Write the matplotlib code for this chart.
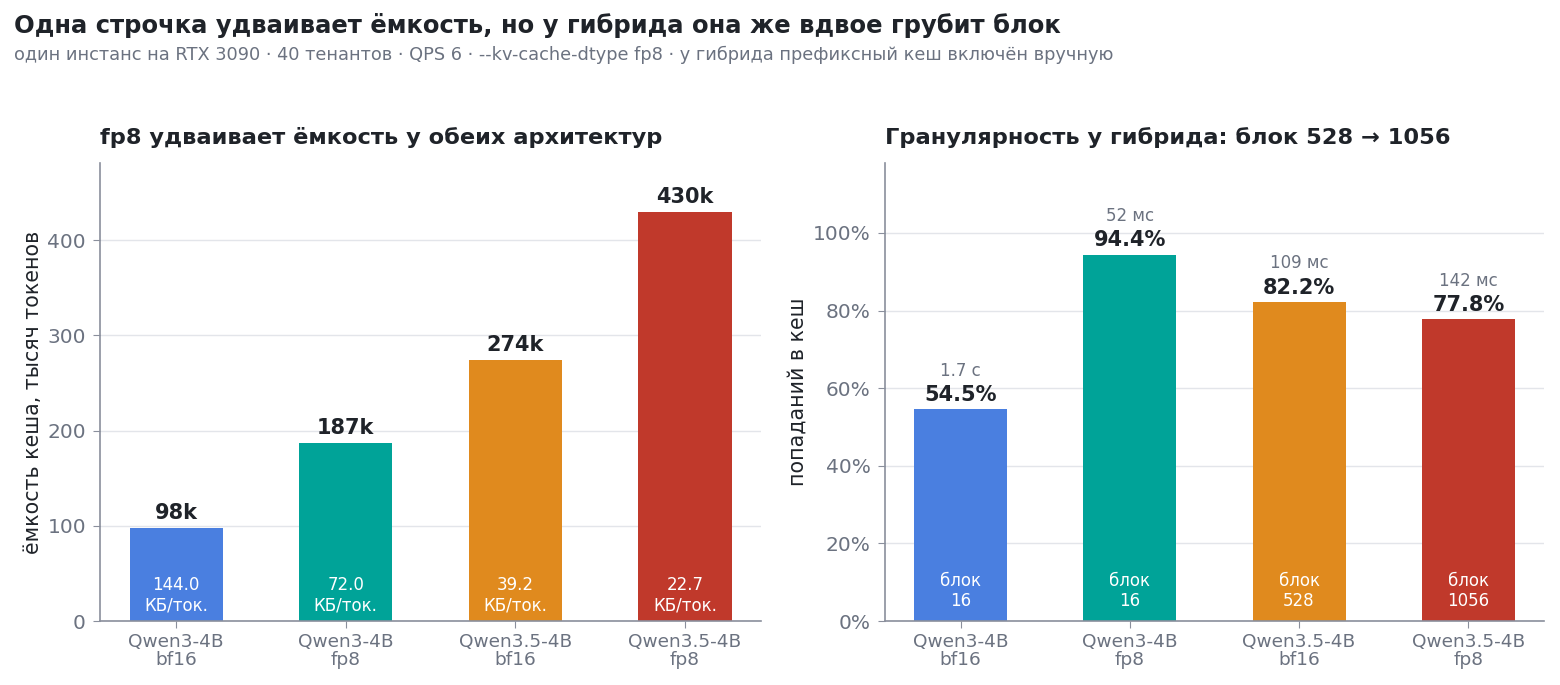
import numpy as np
import matplotlib
matplotlib.use('Agg')
import matplotlib.pyplot as plt

plt.rcParams['font.family'] = ['DejaVu Sans']

# данные
labels = ['Qwen3-4B\nbf16', 'Qwen3-4B\nfp8', 'Qwen3.5-4B\nbf16', 'Qwen3.5-4B\nfp8']
capacity_k = [98, 187, 274, 430]
kb_per_tok = [144.0, 72.0, 39.2, 22.7]
hit_rate = [54.5, 94.4, 82.2, 77.8]
latency = ['1.7 с', '52 мс', '109 мс', '142 мс']
block = [16, 16, 528, 1056]
colors = ['#4A7FE0', '#00A398', '#E08A1E', '#C0392B']

txt = '#1F2329'
grey = '#6B7280'
gridc = '#E3E5EA'

fig = plt.figure(figsize=(15.6, 6.85), dpi=100)
ax1 = fig.add_axes([0.064, 0.0934, 0.424, 0.6686])
ax2 = fig.add_axes([0.567, 0.0934, 0.423, 0.6686])

fig.text(0.009, 0.963, 'Одна строчка удваивает ёмкость, но у гибрида она же вдвое грубит блок',
         fontsize=17.5, fontweight='bold', color=txt, va='center', ha='left')
fig.text(0.009, 0.920, 'один инстанс на RTX 3090 · 40 тенантов · QPS 6 · --kv-cache-dtype fp8 · у гибрида префиксный кеш включён вручную',
         fontsize=12.8, color=grey, va='center', ha='left')

x = np.arange(len(labels))
w = 0.55


def style(ax):
    for s in ['top', 'right']:
        ax.spines[s].set_visible(False)
    for s in ['left', 'bottom']:
        ax.spines[s].set_color('#8A8F9C')
        ax.spines[s].set_linewidth(1.2)
    ax.grid(axis='y', color=gridc, linewidth=1)
    ax.set_axisbelow(True)
    ax.tick_params(axis='y', colors='#8A8F9C', labelcolor=grey, labelsize=14.5, length=5, pad=5)
    ax.tick_params(axis='x', colors='#8A8F9C', labelcolor=grey, labelsize=13.3, length=5)
    ax.set_xticks(x)
    ax.set_xticklabels(labels, linespacing=1.0)
    ax.set_xlim(-0.45, 3.45)


# левый график
ax1.bar(x, capacity_k, width=w, color=colors, zorder=2)
style(ax1)
ax1.set_ylim(0, 481)
ax1.set_yticks([0, 100, 200, 300, 400])
ax1.set_ylabel('ёмкость кеша, тысяч токенов', fontsize=14.8, color=txt, labelpad=3)
ax1.set_title('fp8 удваивает ёмкость у обеих архитектур', loc='left', fontsize=16.2,
              fontweight='bold', color=txt, pad=14)
for i, v in enumerate(capacity_k):
    ax1.text(i, v + 5, f'{v}k', ha='center', va='bottom', fontsize=15, fontweight='bold', color=txt)
    ax1.text(i, 27, f'{kb_per_tok[i]:.1f}\nКБ/ток.', ha='center', va='center', fontsize=12,
             color='white', linespacing=1.12)

# правый график
ax2.bar(x, hit_rate, width=w, color=colors, zorder=2)
style(ax2)
ax2.set_ylim(0, 118)
ax2.set_yticks([0, 20, 40, 60, 80, 100])
ax2.set_yticklabels([f'{t}%' for t in [0, 20, 40, 60, 80, 100]])
ax2.set_ylabel('попаданий в кеш', fontsize=14.8, color=txt, labelpad=4)
ax2.set_title('Гранулярность у гибрида: блок 528 → 1056', loc='left', fontsize=16.2,
              fontweight='bold', color=txt, pad=14)
for i, v in enumerate(hit_rate):
    ax2.text(i, v + 1.1, f'{v:.1f}%', ha='center', va='bottom', fontsize=15, fontweight='bold', color=txt)
    ax2.text(i, v + 7.6, latency[i], ha='center', va='bottom', fontsize=12, color=grey)
    ax2.text(i, 7.7, f'блок\n{block[i]}', ha='center', va='center', fontsize=12,
             color='white', linespacing=1.12)

plt.savefig('out.png', dpi=100)
